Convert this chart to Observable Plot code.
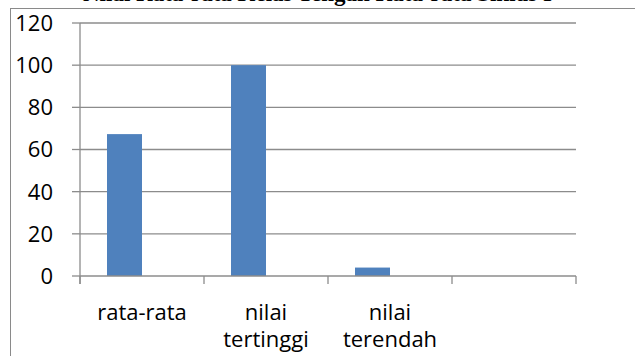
<!DOCTYPE html>
<html>
<head>
<meta charset="utf-8">
<script src="https://cdn.jsdelivr.net/npm/d3@7"></script>
<script src="https://cdn.jsdelivr.net/npm/@observablehq/plot@0.6"></script>
<style>
  html, body { margin: 0; padding: 0; background: #fff; overflow: hidden; }
  #title { height: 8px; overflow: hidden; position: relative; }
  #title span { position: absolute; left: 0; right: 0; bottom: 3px; text-align: center;
    font: bold 23px "Liberation Serif", serif; line-height: 23px; white-space: nowrap; color: #000; }
  #wrap { margin-left: 10px; border-left: 1px solid #8a8a8a; border-top: 1px solid #8a8a8a; width: 624px; }
  #wrap svg { display: block; }
</style>
</head>
<body>
<div id="title"><span>Nilai Rata-rata Kelas Tengah Rata-rata Siklus I</span></div>
<div id="wrap"></div>
<script>
const categories = ["rata-rata", "nilai tertinggi", "nilai terendah", ""];
const seriesNames = ["Series 1", "Series 2"];
const series1 = [67.3, 100, 4, null];
const yTicks = [0, 20, 40, 60, 80, 100, 120];

const data = categories.map((c, i) => ({category: c, series: seriesNames[0], value: series1[i]}))
  .filter(d => d.value != null);

const font = "'Open Sans', sans-serif";
const chart = Plot.plot({
  width: 624,
  height: 347,
  marginLeft: 69,
  marginRight: 59,
  marginTop: 14,
  marginBottom: 80,
  style: {fontFamily: font, fontSize: "22px", color: "#000", background: "#fff"},
  fx: {domain: categories, padding: 0, axis: null},
  x: {domain: seriesNames, paddingInner: 0, paddingOuter: 0.75, axis: null},
  y: {domain: [0, 120], ticks: yTicks, axis: null},
  marks: [
    Plot.barY(data, {fx: "category", x: "series", y: "value", fill: "#4f81bd"})
  ]
});

// axes, gridlines and boundary ticks drawn with the library's scales
const svg = d3.select(chart);
const y = chart.scale("y");
const fx = chart.scale("fx");
const left = fx.apply(categories[0]);
const right = fx.apply(categories[categories.length - 1]) + fx.bandwidth;
const grid = svg.insert("g", ":first-child").attr("stroke", "#8c8c8c").attr("stroke-width", 1.3);
yTicks.filter(t => t > 0).forEach(t => {
  grid.append("line").attr("x1", left).attr("x2", right).attr("y1", y.apply(t)).attr("y2", y.apply(t));
});
const g = svg.append("g").attr("stroke", "#8c8c8c").attr("stroke-width", 1.3);
g.append("line").attr("x1", left).attr("x2", right).attr("y1", y.apply(0)).attr("y2", y.apply(0)).attr("stroke-width", 1.6);
g.append("line").attr("x1", left).attr("x2", left).attr("y1", y.apply(120)).attr("y2", y.apply(0) + 8);
yTicks.forEach(t => {
  g.append("line").attr("x1", left - 8).attr("x2", left).attr("y1", y.apply(t)).attr("y2", y.apply(t));
});
const bounds = categories.map(c => fx.apply(c)).concat([right]);
bounds.forEach(b => {
  g.append("line").attr("x1", b).attr("x2", b).attr("y1", y.apply(0)).attr("y2", y.apply(0) + 8);
});
const tg = svg.append("g").attr("font-family", font).attr("font-size", 22).attr("fill", "#000");
yTicks.forEach(t => {
  tg.append("text").attr("x", left - 27).attr("y", y.apply(t)).attr("dy", "0.36em")
    .attr("text-anchor", "end").text(t);
});
categories.forEach(c => {
  const cx = fx.apply(c) + fx.bandwidth / 2;
  const words = c.split(" ");
  words.forEach((w, i) => {
    tg.append("text").attr("x", cx).attr("y", y.apply(0) + 44 + i * 27)
      .attr("text-anchor", "middle").text(w);
  });
});
document.getElementById("wrap").appendChild(chart);
</script>
</body>
</html>
